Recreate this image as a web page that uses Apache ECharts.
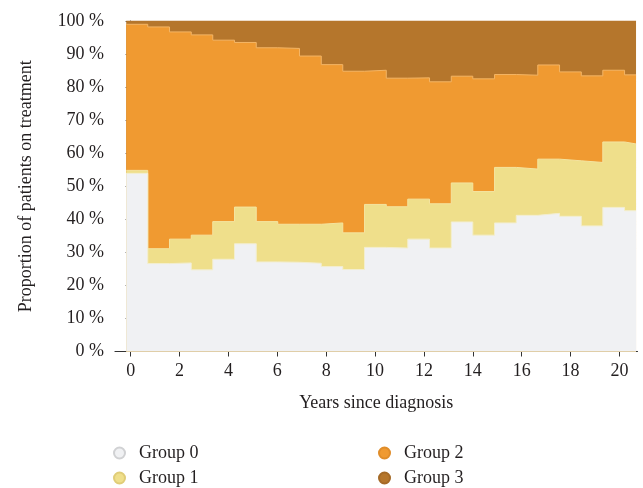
<!DOCTYPE html>
<html>
<head>
<meta charset="utf-8">
<script src="https://cdn.jsdelivr.net/npm/echarts@6/dist/echarts.min.js"></script>
<style>
html,body{margin:0;padding:0;background:#fff;}
#chart{width:643px;height:488px;}
</style>
</head>
<body>
<div id="chart"></div>
<script>
// Step start positions (years since diagnosis) and end of last step
var stepStarts = [-0.18, 0.70, 1.59, 2.48, 3.36, 4.25, 5.14, 6.02, 6.91, 7.80, 8.68, 9.57,
                  10.46, 11.34, 12.23, 13.12, 14.00, 14.89, 15.78, 16.66, 17.55, 18.44, 19.32, 20.21];
var stepEnd = 20.68;

// Share of patients (%) per group in each step
var group0 = [53.9, 26.6, 26.8, 24.7, 27.9, 32.6, 27.1, 27.0, 26.7, 25.7, 24.8, 31.5,
              31.3, 34.0, 31.3, 39.2, 35.2, 38.9, 41.2, 41.8, 40.9, 38.0, 43.6, 42.6];
var group1 = [0.9, 4.5, 7.2, 10.5, 11.4, 11.1, 12.2, 11.5, 11.8, 13.2, 11.1, 13.0,
              12.5, 12.1, 13.4, 11.8, 13.2, 16.8, 14.0, 16.4, 16.8, 19.2, 19.8, 20.2];
var group2 = [44.2, 67.1, 62.7, 60.6, 54.9, 49.8, 52.6, 53.2, 50.9, 47.9, 48.9, 40.6,
              38.9, 36.7, 36.9, 32.3, 34.1, 28.1, 28.4, 28.5, 26.9, 26.2, 21.7, 20.9];
var group3 = [1.0, 1.8, 3.3, 4.2, 5.8, 6.5, 8.1, 8.3, 10.6, 13.2, 15.2, 14.9,
              17.3, 17.2, 18.4, 16.7, 17.5, 16.2, 16.4, 13.3, 15.4, 16.6, 14.9, 16.3];

var xTicks = [0, 2, 4, 6, 8, 10, 12, 14, 16, 18, 20];
var yTicks = [0, 10, 20, 30, 40, 50, 60, 70, 80, 90, 100];

var groupNames = ['Group 0', 'Group 1', 'Group 2', 'Group 3'];
var groupColors = ['#f0f1f3', '#efdf8b', '#f09a31', '#b5762c'];
var lineColors = ['#f3eecf', '#f4e4a0', '#f4b565', '#b5762c'];
var legendBorders = ['#d0d1d3', '#e0cd78', '#e08d2a', '#a56a27'];

// cumulative tops (stacked manually, bottom to top)
var groupsData = [group0, group1, group2, group3];
var cum = [];
for (var g = 0; g < groupsData.length; g++) {
  cum.push(groupsData[g].map(function (v, i) {
    var s = 0;
    for (var h = 0; h <= g; h++) s += groupsData[h][i];
    return Math.round(s * 10) / 10;
  }));
}

function toPairs(vals) {
  var out = [];
  for (var i = 0; i < stepStarts.length; i++) out.push([stepStarts[i], vals[i]]);
  out.push([stepEnd, vals[vals.length - 1]]);
  return out;
}

var series = [];
for (var k = 3; k >= 0; k--) {
  series.push({
    name: groupNames[k],
    type: 'line',
    step: 'end',
    symbol: 'none',
    data: toPairs(cum[k]),
    lineStyle: { color: lineColors[k], width: 1 },
    areaStyle: { color: groupColors[k], opacity: 1, origin: 'start' },
    itemStyle: { color: groupColors[k], borderColor: legendBorders[k], borderWidth: 0.8 },
    z: 2 + (3 - k)
  });
}

var textColor = '#231f20';
var fontFamily = '"Liberation Serif", "DejaVu Serif", serif';

function legendFor(name, left, top) {
  return {
    data: [name],
    orient: 'horizontal',
    left: left,
    top: top,
    icon: 'circle',
    itemWidth: 11,
    itemHeight: 11,
    padding: 0,
    textStyle: { color: textColor, fontSize: 18, fontFamily: fontFamily, padding: [0, 0, 0, 9] }
  };
}

var chart = echarts.init(document.getElementById('chart'), null, { renderer: 'canvas' });
chart.setOption({
  animation: false,
  backgroundColor: '#fff',
  grid: { left: 115, right: 5.5, top: 21, bottom: 136.5, containLabel: false },
  xAxis: {
    type: 'value',
    min: -0.64,
    max: 20.74,
    name: 'Years since diagnosis',
    nameLocation: 'middle',
    nameGap: 43,
    nameTextStyle: { color: textColor, fontSize: 18, fontFamily: fontFamily },
    axisLine: { show: true, onZero: false, lineStyle: { color: '#333', width: 1.2 } },
    axisTick: { show: true, length: 5, lineStyle: { color: '#333' }, customValues: xTicks },
    axisLabel: { color: textColor, fontSize: 18, fontFamily: fontFamily, margin: 11, customValues: xTicks },
    splitLine: { show: false }
  },
  yAxis: {
    type: 'value',
    min: 0,
    max: 100,
    interval: 10,
    name: 'Proportion of patients on treatment',
    nameLocation: 'middle',
    nameGap: 80,
    nameTextStyle: { color: textColor, fontSize: 18, fontFamily: fontFamily },
    axisLine: { show: true, lineStyle: { color: '#333', width: 1.2 } },
    axisTick: { show: true, length: 5, lineStyle: { color: '#333' }, customValues: yTicks },
    axisLabel: { color: textColor, fontSize: 18, fontFamily: fontFamily, margin: 11,
                 customValues: yTicks, formatter: '{value} %' },
    splitLine: { show: false }
  },
  legend: [
    legendFor('Group 0', 113, 444),
    legendFor('Group 1', 113, 469),
    legendFor('Group 2', 378, 444),
    legendFor('Group 3', 378, 469)
  ],
  series: series
});
</script>
</body>
</html>
